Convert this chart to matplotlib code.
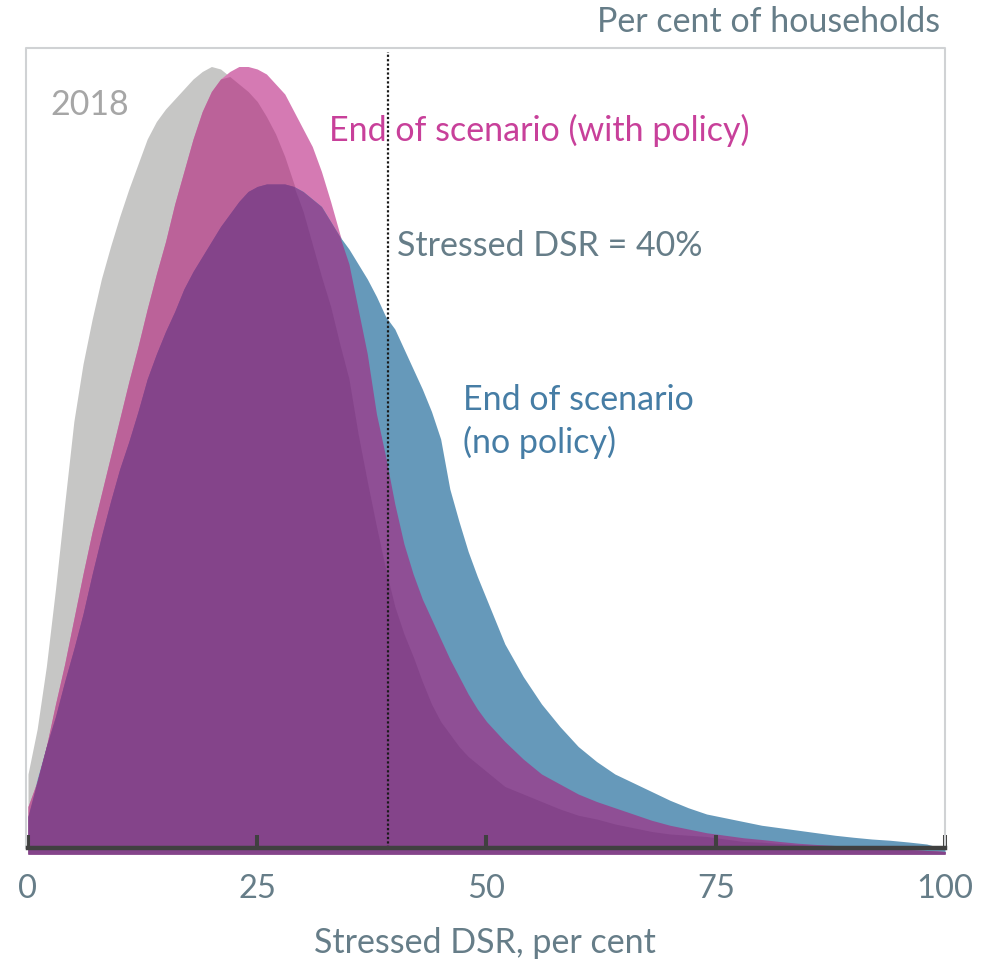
import numpy as np
import matplotlib.pyplot as plt

plt.rcParams['font.family'] = ['Lato', 'DejaVu Sans']

# stressed debt-servicing ratio (per cent) and share of households
dsr = list(range(0, 51)) + list(range(52, 101, 2))
hh_2018 = [0.32, 0.50, 0.75, 1.06, 1.40, 1.73, 1.96, 2.14, 2.30, 2.43,
           2.55, 2.66, 2.76, 2.86, 2.93, 2.98, 3.02, 3.06, 3.10, 3.13,
           3.15, 3.14, 3.11, 3.08, 3.05, 3.01, 2.95, 2.88, 2.79, 2.68,
           2.57, 2.44, 2.31, 2.19, 2.04, 1.90, 1.68, 1.49, 1.31, 1.14,
           0.99, 0.88, 0.79, 0.69, 0.60, 0.53, 0.48, 0.43, 0.39, 0.36,
           0.33, 0.27, 0.24, 0.21, 0.18, 0.155, 0.14, 0.12, 0.105, 0.09,
           0.08, 0.075, 0.07, 0.06, 0.05, 0.047, 0.042, 0.037, 0.033, 0.03,
           0.027, 0.024, 0.02, 0.017, 0.014, 0.01]
hh_policy = [0.19, 0.29, 0.43, 0.60, 0.76, 0.94, 1.12, 1.29, 1.44, 1.59,
             1.74, 1.89, 2.03, 2.18, 2.32, 2.45, 2.60, 2.73, 2.86, 2.97,
             3.05, 3.10, 3.13, 3.15, 3.15, 3.14, 3.12, 3.08, 3.04, 2.97,
             2.90, 2.83, 2.73, 2.61, 2.48, 2.36, 2.18, 2.00, 1.76, 1.59,
             1.40, 1.24, 1.12, 1.02, 0.94, 0.86, 0.78, 0.71, 0.64, 0.58,
             0.53, 0.45, 0.38, 0.32, 0.28, 0.24, 0.21, 0.185, 0.16, 0.135,
             0.115, 0.10, 0.085, 0.075, 0.065, 0.058, 0.05, 0.043, 0.038, 0.034,
             0.03, 0.026, 0.022, 0.018, 0.014, 0.01]
hh_nopolicy = [0.15, 0.30, 0.43, 0.55, 0.69, 0.82, 0.96, 1.12, 1.27, 1.41,
               1.54, 1.65, 1.77, 1.90, 2.00, 2.09, 2.17, 2.26, 2.33, 2.39,
               2.45, 2.51, 2.56, 2.61, 2.65, 2.67, 2.68, 2.68, 2.68, 2.67,
               2.65, 2.62, 2.59, 2.53, 2.47, 2.42, 2.36, 2.30, 2.23, 2.15,
               2.10, 2.02, 1.94, 1.86, 1.77, 1.66, 1.46, 1.33, 1.21, 1.11,
               1.02, 0.84, 0.71, 0.60, 0.51, 0.43, 0.37, 0.32, 0.285, 0.25,
               0.215, 0.185, 0.16, 0.145, 0.13, 0.115, 0.105, 0.095, 0.085, 0.075,
               0.067, 0.06, 0.055, 0.048, 0.04, 0.02]
xticks = [0, 25, 50, 75, 100]
threshold = 39.3  # drawn where the original puts the 40% marker

GREY = '#C6C6C5'
PINK = '#D57AB3'
PINK_GREY = '#BB6299'
BLUE = '#6699BA'
PURPLE_LT = '#8F4F95'
PURPLE_DK = '#84448A'
SLATE = '#667D88'
FS = 24.5

x = np.array(dsr)
g = np.array(hh_2018)
p = np.array(hh_policy)
b = np.array(hh_nopolicy)

fig = plt.figure(figsize=(10.02, 9.62), dpi=100)
ax = fig.add_axes([20 / 1002, (962 - 855) / 962, 930 / 1002, (855 - 45) / 962])
ax.set_xlim(-0.872, 100.545)
ax.set_ylim(0, 3.24)

# overlapping areas, painted region by region
ax.fill_between(x, 0, g, color=GREY, lw=0)
ax.fill_between(x, 0, p, color=PINK, lw=0)
ax.fill_between(x, 0, b, color=BLUE, lw=0)
ax.fill_between(x, 0, np.minimum(p, g), color=PINK_GREY, lw=0)
ax.fill_between(x, 0, np.minimum(p, b), color=PURPLE_LT, lw=0)
ax.fill_between(x, 0, np.minimum.reduce([p, b, g]), color=PURPLE_DK, lw=0)

# plot frame
ax.plot([-0.22, -0.22, 100, 100], [0.024, 3.224, 3.224, 0.024], color='#D0D2D4', lw=1.5, zorder=3)

ax.plot([threshold, threshold], [0.024, 3.21], color='#1a1a1a', lw=1.6, ls=(0, (1, 1)), zorder=4)

for s in ['top', 'left', 'right']:
    ax.spines[s].set_visible(False)
ax.spines['bottom'].set_position(('data', 0.024))
ax.spines['bottom'].set_bounds(0, 100)
ax.spines['bottom'].set_linewidth(3.2)
ax.spines['bottom'].set_color('#404040')
ax.spines['bottom'].set_zorder(5)
ax.set_xticks(xticks)
ax.set_xticklabels([str(t) for t in xticks])
ax.tick_params(axis='x', direction='in', length=9.5, width=2.9, color='#404040',
               pad=18, labelsize=23.5, labelcolor=SLATE)
ax.set_yticks([])

ax.text(2.4, 3.0, '2018', color='#A6A6A6', fontsize=FS, va='center')
ax.text(32.8, 2.9, 'End of scenario (with policy)', color='#C8409A', fontsize=FS, va='center')
ax.text(40.2, 2.436, 'Stressed DSR = 40%', color=SLATE, fontsize=FS, va='center')
ax.text(47.4, 1.734, 'End of scenario\n(no policy)', color='#467DA5', fontsize=FS,
        va='center', linespacing=1.4)

fig.text(940 / 1002, (962 - 22) / 962, 'Per cent of households', color=SLATE, fontsize=FS,
         ha='right', va='center')
fig.text(485 / 1002, (962 - 943) / 962, 'Stressed DSR, per cent', color=SLATE, fontsize=FS,
         ha='center', va='center')

fig.savefig('out.png', dpi=100)
